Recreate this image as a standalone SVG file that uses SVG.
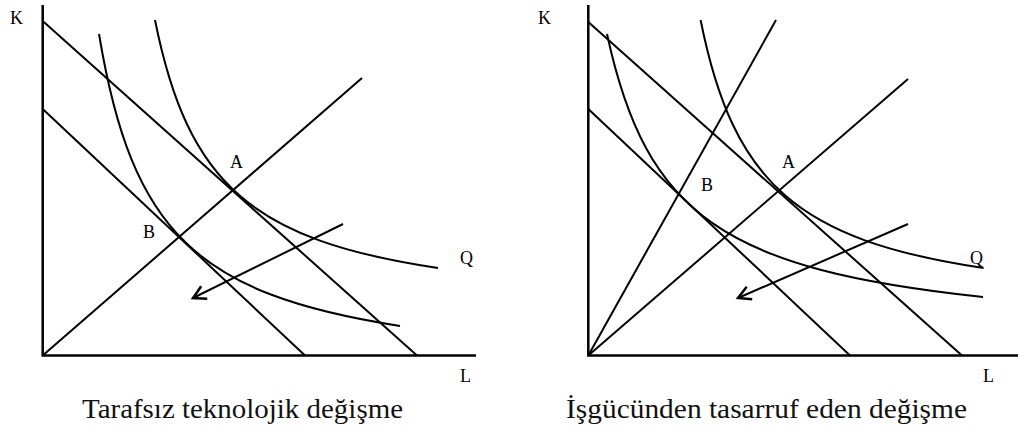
<svg xmlns="http://www.w3.org/2000/svg" width="1018" height="432" viewBox="0 0 1018 432">
  <defs>
    <marker id="arr" markerUnits="userSpaceOnUse" markerWidth="20" markerHeight="20" refX="0" refY="0" viewBox="-12 -8 14 16" orient="auto" overflow="visible">
      <path d="M-10,-5.5 L0,0 L-10,5.5" fill="none" stroke="#000" stroke-width="2" stroke-linejoin="miter"/>
    </marker>
    <style>
      .ax { stroke:#000; stroke-width:2.5; fill:none; }
      .ln { stroke:#000; stroke-width:2; fill:none; }
      .lbl { font-size:18px; fill:#000; }
      .cap { font-size:27px; fill:#111; }
    </style>
  </defs>
  <rect width="1018" height="432" fill="#fff"/>

  <g id="left-panel" font-family="'Liberation Serif', 'DejaVu Serif', serif">
    <g id="left-axes">
      <path class="ax" d="M42.7,5 V355.5 H476"/>
      <text class="lbl" x="10" y="24">K</text>
      <text class="lbl" x="460" y="382">L</text>
    </g>
    <g id="left-connectors">
      <path class="ln" d="M42.7,21 L417,355.5"/>
      <path class="ln" d="M42.7,109 L305,355.5"/>
      <path class="ln" d="M42.7,355.5 L362,78"/>
      <path class="ln" d="M155,20 C187.8,183.9 252,240.2 438,268"/>
      <path class="ln" d="M99,34 C131.9,232 196,294.2 400,326"/>
      <path class="ln" d="M343,224 L193,298" marker-end="url(#arr)"/>
    </g>
    <g id="left-labels">
      <text class="lbl" x="230" y="168">A</text>
      <text class="lbl" x="143" y="238">B</text>
      <text class="lbl" x="460" y="264">Q</text>
    </g>
    <text class="cap" x="82" y="418" textLength="321" lengthAdjust="spacingAndGlyphs">Tarafsız teknolojik değişme</text>
  </g>

  <g id="right-panel" font-family="'Liberation Serif', 'DejaVu Serif', serif">
    <g id="right-axes">
      <path class="ax" d="M588.3,5 V355.5 H1018"/>
      <text class="lbl" x="538" y="24">K</text>
      <text class="lbl" x="983" y="382">L</text>
    </g>
    <g id="right-connectors">
      <path class="ln" d="M588.3,22 L962,355.5"/>
      <path class="ln" d="M588.3,109 L850,355.5"/>
      <path class="ln" d="M588.3,355.5 L776,20"/>
      <path class="ln" d="M588.3,355.5 L908,79"/>
      <path class="ln" d="M700.6,20 C733.4,183.9 797.6,240.2 983.6,268"/>
      <path class="ln" d="M607,34 C646.4,215.4 723.5,269.3 983,297"/>
      <path class="ln" d="M908,224 L738,298" marker-end="url(#arr)"/>
    </g>
    <g id="right-labels">
      <text class="lbl" x="782" y="168">A</text>
      <text class="lbl" x="701" y="191">B</text>
      <text class="lbl" x="970" y="264">Q</text>
    </g>
    <text class="cap" x="566" y="418" textLength="401" lengthAdjust="spacingAndGlyphs">İşgücünden tasarruf eden değişme</text>
  </g>
</svg>
